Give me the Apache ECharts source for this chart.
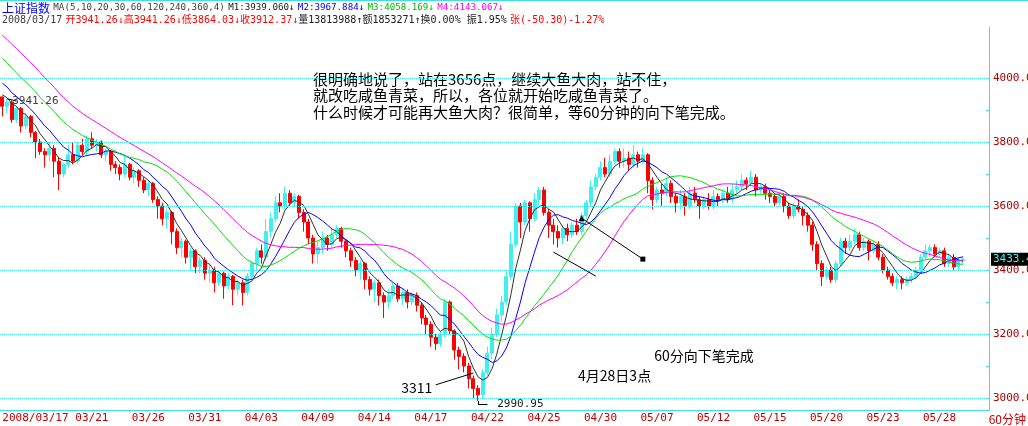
<!DOCTYPE html>
<html>
<head>
<meta charset="utf-8">
<script src="https://cdn.jsdelivr.net/npm/echarts@6/dist/echarts.min.js"></script>
<style>html,body{margin:0;padding:0;background:#fff}#main{width:1028px;height:426px}</style>
</head>
<body>
<div id="main"></div>
<script>
// 60分钟K线 [开, 收, 低, 高]
var bars = [
[3941,3912,3880,3941],[3912,3925,3890,3935],[3925,3870,3860,3930],[3870,3905,3860,3910],[3905,3850,3830,3910],
[3850,3880,3840,3890],[3880,3830,3815,3885],[3830,3800,3750,3835],[3800,3770,3760,3810],[3770,3760,3720,3780],
[3760,3780,3740,3800],[3780,3740,3690,3790],[3740,3700,3650,3750],[3700,3730,3690,3735],[3730,3760,3720,3790],
[3760,3740,3730,3800],[3740,3790,3730,3800],[3790,3770,3760,3810],[3770,3810,3760,3820],[3810,3790,3780,3830],
[3790,3800,3770,3810],[3800,3760,3750,3805],[3760,3770,3740,3780],[3770,3730,3710,3775],[3730,3720,3700,3740],
[3720,3700,3680,3730],[3700,3730,3690,3760],[3730,3690,3680,3735],[3690,3710,3670,3720],[3710,3680,3660,3715],
[3680,3650,3640,3690],[3650,3670,3630,3680],[3670,3620,3610,3675],[3620,3600,3560,3630],[3600,3560,3540,3610],
[3560,3580,3530,3590],[3580,3520,3480,3585],[3520,3470,3450,3530],[3470,3490,3440,3500],[3490,3440,3420,3495],
[3440,3460,3400,3470],[3460,3410,3390,3465],[3410,3430,3390,3440],[3430,3390,3370,3440],[3390,3400,3360,3420],
[3400,3360,3330,3410],[3360,3390,3350,3400],[3390,3350,3310,3395],[3350,3380,3340,3390],[3380,3340,3290,3385],
[3340,3360,3320,3370],[3360,3330,3290,3370],[3330,3380,3320,3390],[3380,3420,3370,3430],[3420,3460,3400,3470],
[3460,3440,3420,3480],[3440,3520,3430,3560],[3520,3560,3500,3580],[3560,3610,3550,3630],[3610,3600,3580,3640],
[3600,3640,3590,3660],[3640,3610,3600,3650],[3610,3630,3600,3640],[3630,3580,3560,3635],[3580,3550,3520,3590],
[3550,3500,3480,3560],[3500,3450,3420,3510],[3450,3470,3420,3490],[3470,3500,3450,3520],[3500,3480,3460,3510],
[3480,3510,3470,3530],[3510,3530,3500,3540],[3530,3490,3470,3535],[3490,3460,3440,3495],[3460,3430,3410,3470],
[3430,3400,3380,3440],[3400,3420,3370,3430],[3420,3370,3340,3425],[3370,3340,3320,3380],[3340,3360,3300,3370],
[3360,3320,3290,3370],[3320,3300,3250,3330],[3300,3320,3280,3340],[3320,3350,3310,3360],[3350,3310,3300,3360],
[3310,3330,3290,3340],[3330,3300,3280,3340],[3300,3320,3290,3330],[3320,3290,3270,3330],[3290,3250,3230,3300],
[3250,3230,3200,3260],[3230,3190,3160,3240],[3190,3170,3150,3200],[3170,3200,3160,3210],[3200,3300,3190,3310],
[3300,3210,3200,3305],[3210,3150,3120,3215],[3150,3130,3090,3160],[3130,3100,3080,3140],[3100,3060,3030,3110],
[3060,3030,3000,3070],[3030,3010,2991,3040],[3010,3080,3000,3090],[3080,3140,3070,3160],[3140,3200,3120,3220],
[3200,3260,3190,3280],[3260,3300,3240,3320],[3300,3380,3290,3400],[3380,3480,3370,3520],[3480,3600,3470,3610],
[3600,3550,3500,3610],[3550,3610,3540,3620],[3610,3560,3520,3615],[3560,3620,3550,3640],[3620,3650,3600,3660],
[3650,3580,3570,3660],[3580,3540,3500,3590],[3540,3520,3480,3560],[3520,3500,3470,3540],[3500,3530,3480,3540],
[3530,3510,3490,3545],[3510,3540,3500,3550],[3540,3520,3510,3560],[3520,3570,3510,3580],[3570,3610,3560,3620],
[3610,3660,3600,3680],[3660,3690,3650,3700],[3690,3720,3680,3740],[3720,3700,3690,3750],[3700,3740,3690,3760],
[3740,3770,3730,3780],[3770,3740,3720,3780],[3740,3750,3720,3780],[3750,3730,3710,3770],[3730,3760,3720,3790],
[3760,3740,3720,3770],[3740,3760,3730,3780],[3760,3680,3640,3765],[3680,3620,3590,3690],[3620,3650,3610,3660],
[3650,3640,3600,3670],[3640,3670,3630,3690],[3670,3630,3610,3680],[3630,3610,3580,3640],[3610,3630,3590,3650],
[3630,3600,3570,3640],[3600,3640,3590,3660],[3640,3620,3610,3660],[3620,3600,3560,3630],[3600,3620,3590,3630],
[3620,3600,3590,3640],[3600,3630,3590,3650],[3630,3620,3600,3640],[3620,3640,3610,3650],[3640,3620,3610,3660],
[3620,3650,3610,3670],[3650,3660,3640,3680],[3660,3680,3650,3700],[3680,3670,3650,3690],[3670,3690,3660,3710],
[3690,3650,3630,3700],[3650,3660,3640,3670],[3660,3640,3620,3670],[3640,3630,3610,3650],[3630,3610,3600,3640],
[3610,3630,3600,3640],[3630,3600,3580,3640],[3600,3570,3560,3610],[3570,3600,3560,3610],[3600,3590,3580,3620],
[3590,3570,3540,3600],[3570,3540,3520,3580],[3540,3480,3460,3550],[3480,3420,3400,3490],[3420,3380,3350,3430],
[3380,3400,3370,3410],[3400,3370,3360,3410],[3370,3420,3360,3430],[3420,3490,3410,3500],[3490,3470,3450,3500],
[3470,3490,3460,3510],[3490,3510,3480,3530],[3510,3470,3460,3520],[3470,3490,3460,3500],[3490,3460,3430,3495],
[3460,3480,3450,3490],[3480,3440,3430,3490],[3440,3400,3390,3450],[3400,3380,3370,3410],[3380,3360,3350,3390],
[3360,3370,3340,3380],[3370,3360,3340,3380],[3360,3370,3350,3380],[3370,3380,3360,3390],[3380,3400,3370,3410],
[3400,3440,3390,3450],[3440,3460,3430,3480],[3460,3470,3440,3480],[3470,3450,3440,3480],[3450,3460,3440,3470],
[3460,3420,3410,3470],[3420,3440,3410,3450],[3440,3410,3400,3450],[3410,3430,3400,3440],[3430,3433.4,3420,3440]
];
// 图表开始之前的收盘价（用于均线）
var priorCloses = [4330,4320,4300,4310,4290,4270,4250,4260,4240,4220,4200,4210,4190,4170,4150,
  4120,4100,4110,4080,4060,4040,4050,4020,4000,3990,3970,3960,3950,3945];
var maPeriods = [5, 10, 20, 30];
var maColors = ['#303030', '#0000ff', '#00e000', '#ff00ff'];
var tickLabels = ['2008/03/17','03/21','03/26','03/31','04/03','04/09','04/14','04/17','04/22',
  '04/25','04/30','05/07','05/12','05/15','05/20','05/23','05/28'];
var tickIndex = [0,19,31,43,55,67,79,91,103,115,127,139,151,163,175,187,199];
var emptySlots = 5; // 右侧留空的K线位
var priceTicks = [3000, 3200, 3400, 3600, 3800, 4000];
var minorTicks = [3100, 3300, 3500, 3700, 3900];
var lastPrice = 3433.4;

var categories = [];
for (var c = 0; c < bars.length + emptySlots; c++) {
	var k = tickIndex.indexOf(c);
	categories.push(k >= 0 ? tickLabels[k] : 'b' + c);
}
var kData = bars.map(function(b) { return [b[0], b[1], b[2], b[3]]; });
var allCloses = priorCloses.concat(bars.map(function(b) { return b[1]; }));

function calcMA(n) {
	var out = [];
	for (var i = priorCloses.length; i < allCloses.length; i++) {
		var s = 0;
		for (var j = i - n + 1; j <= i; j++) s += allCloses[j];
		out.push(+(s / n).toFixed(2));
	}
	return out;
}

var maSeries = maPeriods.map(function(n, k) {
	return {
		name: 'MA' + n, type: 'line', data: calcMA(n), symbol: 'none', silent: true,
		lineStyle: { color: maColors[k], width: 1 }, z: 3
	};
});

var chart = echarts.init(document.getElementById('main'));
var mono = 'DejaVu Sans Mono, Noto Sans CJK SC, monospace';
var blackLine = { color: '#000', width: 1, type: 'solid' };
// 文字标注（透明小点 + 标签）
var txt = function(i, p, text, color, size, font) {
	return { coord: [i, p], symbol: 'circle', symbolSize: 1, itemStyle: { color: 'rgba(0,0,0,0)' },
		label: { show: true, position: 'inside', formatter: text, color: color || '#000',
			fontSize: size || 14, fontFamily: font || 'Noto Sans CJK SC' } };
};

chart.setOption({
	animation: false,
	grid: { left: 0, right: 39, top: 27, bottom: 16, outerBoundsMode: 'none', containLabel: false },
	xAxis: {
		type: 'category', data: categories, boundaryGap: true,
		axisLine: { lineStyle: { color: '#40e0e0' } },
		axisTick: { show: false },
		axisLabel: {
			interval: function(i) { return tickIndex.indexOf(i) >= 0; },
			color: '#c00000', fontSize: 11, fontFamily: mono, margin: 3, alignMinLabel: 'left'
		},
		splitLine: { show: false }
	},
	yAxis: {
		type: 'value', position: 'right', min: 2962.5, max: 4159.4, scale: true,
		axisLine: { show: true, lineStyle: { color: '#40e0e0' } },
		axisTick: { show: true, customValues: priceTicks.concat(minorTicks), length: 3, inside: true, lineStyle: { color: '#40e0e0' } },
		axisLabel: {
			customValues: priceTicks, color: '#b00000', fontSize: 11, fontFamily: mono, margin: 4,
			formatter: function(v) { return v.toFixed(2); }
		},
		splitLine: { show: false }
	},
	graphic: [
		{ type: 'rect', shape: { x: 0, y: 0, width: 1028, height: 1 }, style: { fill: '#40e0e0' } },
		{ type: 'text', left: 2, top: 2, style: {
			text: '{b|上证指数} {g|MA(5,10,20,30,60,120,240,360,4)} {k|M1:3939.060↓} {u|M2:3967.884↓} {n|M3:4058.169↓} {m|M4:4143.067↓}',
			rich: {
				b: { fill: '#0000ff', fontSize: 12, fontFamily: 'Noto Sans CJK SC' },
				g: { fill: '#404040', fontSize: 9.2, fontFamily: mono },
				k: { fill: '#202020', fontSize: 9.2, fontFamily: mono },
				u: { fill: '#0000ff', fontSize: 9.2, fontFamily: mono },
				n: { fill: '#00c000', fontSize: 9.2, fontFamily: mono },
				m: { fill: '#ff00ff', fontSize: 9.2, fontFamily: mono }
			} } },
		{ type: 'text', left: 2, top: 14, style: {
			text: '{g|2008/03/17} {r|开3941.26↓高3941.26↓低3864.03↓收3912.37↓}{k|量13813988↑额1853271↑换0.00% 振1.95%} {r|张(-50.30)-1.27%}',
			rich: {
				g: { fill: '#404040', fontSize: 10, fontFamily: mono },
				r: { fill: '#ff0000', fontSize: 10, fontFamily: mono },
				k: { fill: '#202020', fontSize: 10, fontFamily: mono }
			} } },
		{ type: 'text', left: 313, top: 71, style: {
			text: '很明确地说了，站在3656点，继续大鱼大肉，站不住，\n就改吃咸鱼青菜，所以，各位就开始吃咸鱼青菜了。\n什么时候才可能再大鱼大肉？很简单，等60分钟的向下笔完成。',
			fill: '#000', fontSize: 15, lineHeight: 16.5, fontFamily: 'Noto Sans CJK SC' } },
		{ type: 'text', right: 2, bottom: 1, style: { text: '60分钟', fill: '#c00000', fontSize: 12, fontFamily: 'Noto Sans CJK SC' } }
	],
	series: [{
		type: 'candlestick', data: kData, barWidth: 3.5, z: 2,
		itemStyle: { color: '#40f0f0', color0: '#ff0000', borderColor: '#40f0f0', borderColor0: '#ff0000', borderWidth: 1 },
		markLine: {
			silent: true, symbol: 'none', animation: false,
			data: priceTicks.map(function(v) {
				return { yAxis: v, lineStyle: { color: '#40e0e0', type: 'dotted', width: 1 }, label: { show: false } };
			}).concat([
				{ yAxis: lastPrice, lineStyle: { color: 'rgba(0,0,0,0)', width: 1 }, label: { show: true, position: 'end', formatter: '3433.4',
					color: '#40f0f0', backgroundColor: '#000', padding: [1, 2], fontSize: 11, fontFamily: mono, distance: 2 } },
				[{ coord: [91.9, 3041], lineStyle: blackLine }, { coord: [100, 3078] }],
				[{ coord: [101, 2991], lineStyle: blackLine }, { coord: [101, 2981] }],
				[{ coord: [101, 2981], lineStyle: blackLine }, { coord: [103, 2981] }],
				[{ coord: [116.6, 3456], lineStyle: blackLine }, { coord: [125.5, 3381] }],
				[{ coord: [123.4, 3562], lineStyle: blackLine }, { coord: [136.2, 3434] }],
				[{ coord: [1, 3935], lineStyle: blackLine }, { coord: [3, 3928] }]
			])
		},
		markPoint: {
			silent: true, animation: false,
			data: [
				txt(87.9, 3031, '3311'),
				txt(109.8, 2981, '2990.95', '#202020', 11, mono),
				txt(129.8, 3069, '4月28日3点'),
				{ coord: [136.2, 3434], symbol: 'rect', symbolSize: 5, itemStyle: { color: '#000' }, label: { show: false } },
				{ coord: [123.4, 3562], symbol: 'triangle', symbolSize: 6, itemStyle: { color: '#000' }, label: { show: false } },
				txt(149.3, 3131, '60分向下笔完成'),
				txt(7.2, 3928, '3941.26', '#404040', 11, mono)
			]
		}
	}].concat(maSeries)
});
</script>
</body>
</html>
